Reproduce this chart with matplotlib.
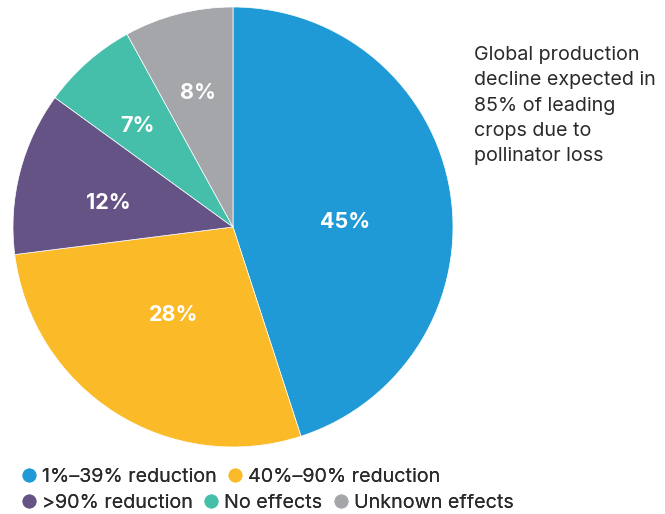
import numpy as np
import matplotlib.pyplot as plt
from matplotlib.lines import Line2D

plt.rcParams['font.family'] = ['Inter', 'DejaVu Sans']

labels = ["1%\u201339% reduction", "40%\u201390% reduction", ">90% reduction",
          "No effects", "Unknown effects"]
shares = [45, 28, 12, 7, 8]
colors = ["#1F9AD6", "#FBBA28", "#655385", "#46BFAA", "#A5A6AA"]
note = "Global production\ndecline expected in\n85% of leading\ncrops due to\npollinator loss"

# label placement tweaks (radius as fraction, angle shift in degrees)
label_radius = [0.51, 0.47, 0.58, 0.64, 0.64]
label_shift = [-5, -2.4, 2.2, 1.3, 0]

fig = plt.figure(figsize=(6.65, 5.14), dpi=100)
W, H = 665, 514
cx, cy, r = 233, 227, 220
ax = fig.add_axes([(cx - r) / W, (H - cy - r) / H, 2 * r / W, 2 * r / H])

wedges, _ = ax.pie(shares, colors=colors, startangle=90, counterclock=False,
                   radius=1, wedgeprops=dict(linewidth=0.5, edgecolor="white"))
ax.set_xlim(-1, 1)
ax.set_ylim(-1, 1)
ax.set_aspect("equal")
ax.axis("off")

cum = 0
for s, rr, sh in zip(shares, label_radius, label_shift):
    mid = np.deg2rad(90 - 3.6 * (cum + s / 2) + sh)
    cum += s
    ax.text(rr * np.cos(mid), rr * np.sin(mid) - 0.012, f"{s}%", color="white",
            fontsize=15.5, fontweight="bold", ha="center", va="center")

fig.text(474 / W, 1 - 46 / H, note, fontsize=14.2, color="#2a2a2a",
         ha="left", va="top", linespacing=1.52)

def handles(idx):
    return [Line2D([], [], marker="o", linestyle="none", markersize=10,
                   markerfacecolor=colors[i], markeredgecolor="none") for i in idx]

for idx, y in [([0, 1], 477), ([2, 3, 4], 503)]:
    leg = fig.legend(handles(idx), [labels[i] for i in idx], ncol=len(idx),
                     loc="center left", bbox_to_anchor=(8 / W, 1 - y / H),
                     frameon=False, fontsize=14.2, handletextpad=0.1,
                     columnspacing=0.4, handlelength=1.1, borderpad=0,
                     labelcolor="#2a2a2a")
    fig.add_artist(leg)

fig.savefig("out.png", dpi=100, facecolor="white")
